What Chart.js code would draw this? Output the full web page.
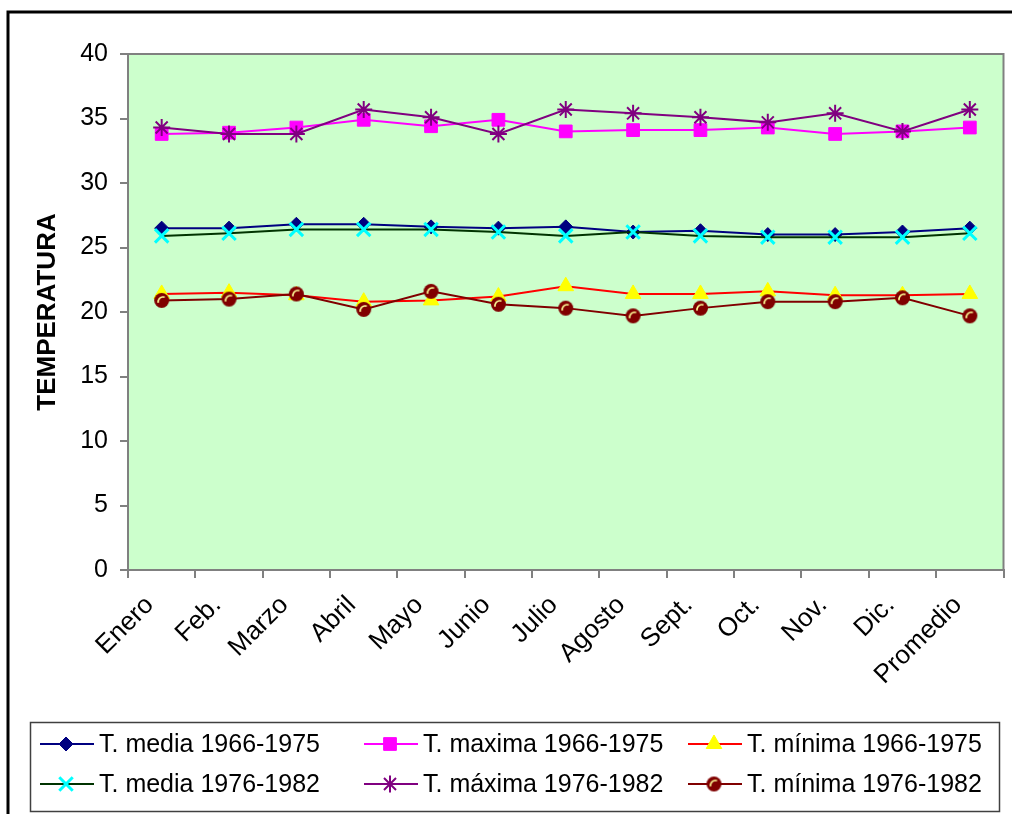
<!DOCTYPE html>
<html>
<head>
<meta charset="utf-8">
<script src="https://cdn.jsdelivr.net/npm/chart.js@4.4.1/dist/chart.umd.min.js"></script>
<style>
  html, body { margin: 0; padding: 0; background: #fff; overflow: hidden; }
  #wrap { position: relative; width: 1016px; height: 814px; }
</style>
</head>
<body>
<div id="wrap"><canvas id="chart"></canvas></div>
<script>
// categories and series
var meses = ['Enero', 'Feb.', 'Marzo', 'Abril', 'Mayo', 'Junio', 'Julio', 'Agosto', 'Sept.', 'Oct.', 'Nov.', 'Dic.', 'Promedio'];
var mediaA = [26.5, 26.5, 26.8, 26.8, 26.6, 26.5, 26.6, 26.2, 26.3, 26.0, 26.0, 26.2, 26.5];
var maximaA = [33.8, 33.9, 34.3, 34.9, 34.4, 34.9, 34.0, 34.1, 34.1, 34.3, 33.8, 34.0, 34.3];
var minimaA = [21.4, 21.5, 21.3, 20.8, 20.9, 21.2, 22.0, 21.4, 21.4, 21.6, 21.3, 21.3, 21.4];
var mediaB = [25.9, 26.1, 26.4, 26.4, 26.4, 26.2, 25.9, 26.2, 25.9, 25.8, 25.8, 25.8, 26.1];
var maximaB = [34.3, 33.8, 33.8, 35.7, 35.1, 33.8, 35.7, 35.4, 35.1, 34.7, 35.4, 34.0, 35.7];
var minimaB = [20.9, 21.0, 21.4, 20.2, 21.6, 20.6, 20.3, 19.7, 20.3, 20.8, 20.8, 21.1, 19.7];
var nombres = ['T. media 1966-1975', 'T. maxima 1966-1975', 'T. mínima 1966-1975',
               'T. media 1976-1982', 'T. máxima 1976-1982', 'T. mínima 1976-1982'];

var FONT = "'Liberation Sans', Arial, sans-serif";

// little shaded ball used as the marker of the last series
function makeBall(r) {
    var c = document.createElement('canvas');
    c.width = c.height = 2 * r + 2;
    var g = c.getContext('2d');
    var cx = r + 1;
    g.fillStyle = '#800000';
    g.beginPath(); g.arc(cx, cx, r, 0, 2 * Math.PI); g.fill();
    g.strokeStyle = '#FFFF99';
    g.lineWidth = 1.6;
    g.beginPath(); g.arc(cx + 1.5, cx + 1.5, r - 2.5, Math.PI * 0.95, Math.PI * 1.6); g.stroke();
    return c;
}
var ball = makeBall(7.5);

function serie(label, data, line, fill, stroke, style, radius, bw, order) {
    return {
        label: label,
        data: data,
        borderColor: line,
        borderWidth: 2,
        backgroundColor: fill,
        pointBackgroundColor: fill,
        pointBorderColor: stroke,
        pointBorderWidth: bw,
        pointStyle: style,
        pointRadius: radius,
        pointHoverRadius: radius,
        tension: 0,
        order: order
    };
}

var datasets = [
    serie(nombres[0], mediaA, '#000080', '#000080', '#000080', 'rectRot', 7, 1, 6),
    serie(nombres[1], maximaA, '#FF00FF', '#FF00FF', '#FF00FF', 'rect', 9, 1, 5),
    serie(nombres[2], minimaA, '#FF0000', '#FFFF00', '#FFFF00', 'triangle', 9, 1, 4),
    serie(nombres[3], mediaB, '#003300', '#00FFFF', '#00FFFF', 'crossRot', 9.5, 3, 3),
    serie(nombres[4], maximaB, '#800080', '#800080', '#800080', 'star', 8.5, 2, 2),
    serie(nombres[5], minimaB, '#800000', '#800000', '#800000', ball, 7.5, 1, 1)
];

var framePlugin = {
    id: 'frame',
    beforeDraw: function (chart) {
        var ctx = chart.ctx, a = chart.chartArea;
        ctx.save();
        ctx.fillStyle = '#fff';
        ctx.fillRect(0, 0, chart.width, chart.height);
        ctx.fillStyle = '#CCFFCC';
        ctx.fillRect(a.left, a.top, a.right - a.left, a.bottom - a.top);
        ctx.strokeStyle = '#808080';
        ctx.lineWidth = 2;
        ctx.strokeRect(a.left, a.top, a.right - a.left, a.bottom - a.top);
        ctx.restore();
    },
    afterDraw: function (chart) {
        var ctx = chart.ctx;
        ctx.save();
        // outer chart frame (runs off the right and bottom)
        ctx.strokeStyle = '#000';
        ctx.lineWidth = 3;
        ctx.beginPath();
        ctx.moveTo(8, chart.height + 5);
        ctx.lineTo(8, 12);
        ctx.lineTo(chart.width + 5, 12);
        ctx.stroke();

        // legend box
        ctx.strokeStyle = '#404040';
        ctx.lineWidth = 1.5;
        ctx.strokeRect(30.5, 722.5, 969, 89);

        var cols = [40, 364, 688];
        var rows = [744, 784];
        ctx.font = '25px ' + FONT;
        ctx.textBaseline = 'middle';
        ctx.textAlign = 'left';
        chart.data.datasets.forEach(function (ds, i) {
            var x0 = cols[i % 3], y = rows[Math.floor(i / 3)];
            ctx.strokeStyle = ds.borderColor;
            ctx.lineWidth = 2;
            ctx.beginPath();
            ctx.moveTo(x0, y);
            ctx.lineTo(x0 + 54, y);
            ctx.stroke();
            ctx.fillStyle = ds.pointBackgroundColor;
            ctx.strokeStyle = ds.pointBorderColor;
            ctx.lineWidth = ds.pointBorderWidth;
            Chart.helpers.drawPoint(ctx, {
                pointStyle: ds.pointStyle,
                radius: ds.pointRadius,
                rotation: 0,
                borderWidth: ds.pointBorderWidth
            }, x0 + 26, y);
            ctx.fillStyle = '#000';
            ctx.fillText(ds.label, x0 + 59, y + 1);
        });
        ctx.restore();
    }
};

new Chart(document.getElementById('chart'), {
    type: 'line',
    data: { labels: meses, datasets: datasets },
    options: {
        responsive: true,
        maintainAspectRatio: false,
        animation: false,
        layout: { padding: { left: 0, top: 54, right: 4, bottom: 114 } },
        plugins: { legend: { display: false }, tooltip: { enabled: false } },
        scales: {
            x: {
                offset: true,
                grid: { offset: true, drawOnChartArea: false, tickLength: 8, color: '#808080', lineWidth: 2 },
                border: { color: '#808080', width: 2 },
                ticks: { color: '#000', font: { family: FONT, size: 26 }, minRotation: 45, maxRotation: 45, autoSkip: false, padding: 12, labelOffset: -12 },
                afterFit: function (s) { s.height = 130; s.paddingLeft = 0; s.paddingRight = 0; }
            },
            y: {
                min: 0,
                max: 40,
                grid: { drawOnChartArea: false, tickLength: 8, color: '#808080', lineWidth: 2 },
                border: { color: '#808080', width: 2 },
                ticks: { stepSize: 5, color: '#000', font: { family: FONT, size: 25 }, padding: 12 },
                title: { display: true, text: 'TEMPERATURA', color: '#000', font: { family: FONT, size: 26, weight: 'bold' }, padding: { top: 32, bottom: 0 } },
                afterFit: function (s) { s.width = 128; }
            }
        }
    },
    plugins: [framePlugin]
});
</script>
</body>
</html>
